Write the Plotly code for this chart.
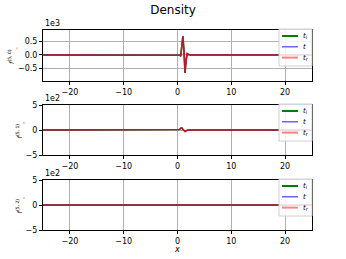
import plotly.graph_objects as go

# ---- data ----
x_pts = [-25, -10, 0, 0.4, 0.6, 0.8, 1.0, 1.2, 1.4, 1.6, 1.8, 2.0, 2.4, 10, 25]
f50_ti = [0, 0, 0, -10, -40, 250, 680, 150, -650, -200, 50, 20, 0, 0, 0]
f50_t = [0, 0, 0, -10, -40, 250, 680, 150, -650, -200, 50, 20, 0, 0, 0]
f50_tr = [0, 0, 0, -10, -40, 250, 680, 150, -650, -200, 50, 20, 0, 0, 0]
f51_ti = [0, 0, 0, 10, 35, 40, 15, -20, -30, -15, 0, 0, 0, 0, 0]
f51_t = [0, 0, 0, 10, 35, 40, 15, -20, -30, -15, 0, 0, 0, 0, 0]
f51_tr = [0, 0, 0, 10, 35, 40, 15, -20, -30, -15, 0, 0, 0, 0, 0]
f52_ti = [0, 0, 0, 0, 0, 0, 0, 0, 0, 0, 0, 0, 0, 0, 0]
f52_t = [0, 0, 0, 0, 0, 0, 0, 0, 0, 0, 0, 0, 0, 0, 0]
f52_tr = [0, 0, 0, 0, 0, 0, 0, 0, 0, 0, 0, 0, 0, 0, 0]

x_ticks = [-20, -10, 0, 10, 20]
y_ticks = [-500, 0, 500]
y1_ticktext = ["\u22120.5", "0.0", "0.5"]
y23_ticktext = ["\u22125", "0", "5"]
series_names = ["<i>t</i><sub>i</sub>", "<i>t</i>", "<i>t</i><sub>r</sub>"]
y_labels = ["<i>f</i><sup>(5, 0)</sup><sub>_</sub>",
            "<i>f</i><sup>(5, 1)</sup><sub>_</sub>",
            "<i>f</i><sup>(5, 2)</sup><sub>_</sub>"]
y_ranges = [[-950, 910], [-500, 500], [-500, 500]]
exponents = ["1e3", "1e2", "1e2"]

panels = [[f50_ti, f50_t, f50_tr], [f51_ti, f51_t, f51_tr], [f52_ti, f52_t, f52_tr]]

W, H = 346, 259
x_dom = [43 / W, 312 / W]
y_px = [(30, 81), (105, 155), (180, 230)]

styles = [dict(color="#008000", width=1.6),
          dict(color="#0000ff", width=0.8),
          dict(color="rgba(230,20,20,0.8)", width=1.6)]
legend_colors = ["#008000", "#4040ff", "#ff8080"]
legend_widths = [2, 1.2, 2]

fig = go.Figure()
font = dict(family="DejaVu Sans", size=8, color="black")

def px(xp):
    return xp / W

def py(yp):
    return 1 - yp / H

for i, series in enumerate(panels):
    k = i + 1
    xa = "x" if k == 1 else f"x{k}"
    ya = "y" if k == 1 else f"y{k}"
    for name, vals, st in zip(series_names, series, styles):
        fig.add_trace(go.Scatter(x=x_pts, y=vals, mode="lines", name=name,
                                 line=st, xaxis=xa, yaxis=ya, showlegend=False))
    top, bot = y_px[i]
    dom = [py(bot), py(top)]
    axkey = "xaxis" if k == 1 else f"xaxis{k}"
    aykey = "yaxis" if k == 1 else f"yaxis{k}"
    fig.layout[axkey] = dict(domain=x_dom, range=[-25, 25], anchor=ya,
                             tickvals=x_ticks,
                             ticktext=[str(v).replace("-", "\u2212") for v in x_ticks],
                             showline=True, mirror=True, linecolor="black", linewidth=1,
                             ticks="outside", ticklen=3, tickcolor="black",
                             showgrid=True, gridcolor="#b0b0b0", gridwidth=1,
                             zeroline=False, tickfont=font, automargin=False)
    fig.layout[aykey] = dict(domain=dom, range=y_ranges[i], anchor=xa,
                             tickvals=y_ticks,
                             ticktext=y1_ticktext if i == 0 else y23_ticktext,
                             showline=True, mirror=True, linecolor="black", linewidth=1,
                             ticks="outside", ticklen=3, tickcolor="black",
                             showgrid=True, gridcolor="#b0b0b0", gridwidth=1,
                             zeroline=False, tickfont=font, automargin=False,
                             title=dict(text=y_labels[i],
                                        font=dict(family="DejaVu Sans", size=6.5, color="black"),
                                        standoff=2))
    fig.add_annotation(text=exponents[i], xref="paper", yref="paper",
                       x=x_dom[0], y=dom[1], xanchor="left", yanchor="bottom",
                       showarrow=False, font=font)

    # manual legend (matplotlib-style, compact)
    box_top = top - 1
    fig.add_shape(type="rect", xref="paper", yref="paper",
                  x0=px(279), x1=px(312), y0=py(box_top + 37), y1=py(box_top),
                  fillcolor="rgba(255,255,255,0.85)", line=dict(color="#d0d0d0", width=1),
                  layer="above")
    for j, name in enumerate(series_names):
        ey = box_top + 7 + j * 10.8
        fig.add_shape(type="line", xref="paper", yref="paper",
                      x0=px(282), x1=px(298), y0=py(ey), y1=py(ey),
                      line=dict(color=legend_colors[j], width=legend_widths[j]),
                      layer="above")
        fig.add_annotation(text=name, xref="paper", yref="paper",
                           x=px(301), y=py(ey), xanchor="left", yanchor="middle",
                           showarrow=False,
                           font=dict(family="DejaVu Sans", size=7, color="black"))

fig.add_annotation(text="<i>x</i>", xref="paper", yref="paper",
                   x=(x_dom[0] + x_dom[1]) / 2, y=py(249), xanchor="center",
                   yanchor="middle", showarrow=False,
                   font=dict(family="DejaVu Sans", size=8, color="black"))

fig.update_layout(width=W, height=H, margin=dict(l=0, r=0, t=0, b=0),
                  paper_bgcolor="white", plot_bgcolor="white", showlegend=False,
                  hovermode=False,
                  title=dict(text="Density", x=0.5, xanchor="center", y=py(10),
                             yanchor="middle",
                             font=dict(family="DejaVu Sans", size=12, color="black")))

fig.write_html("out.html", config={"displayModeBar": False},
               post_script="document.body.style.margin='0';document.body.style.overflow='hidden';")
